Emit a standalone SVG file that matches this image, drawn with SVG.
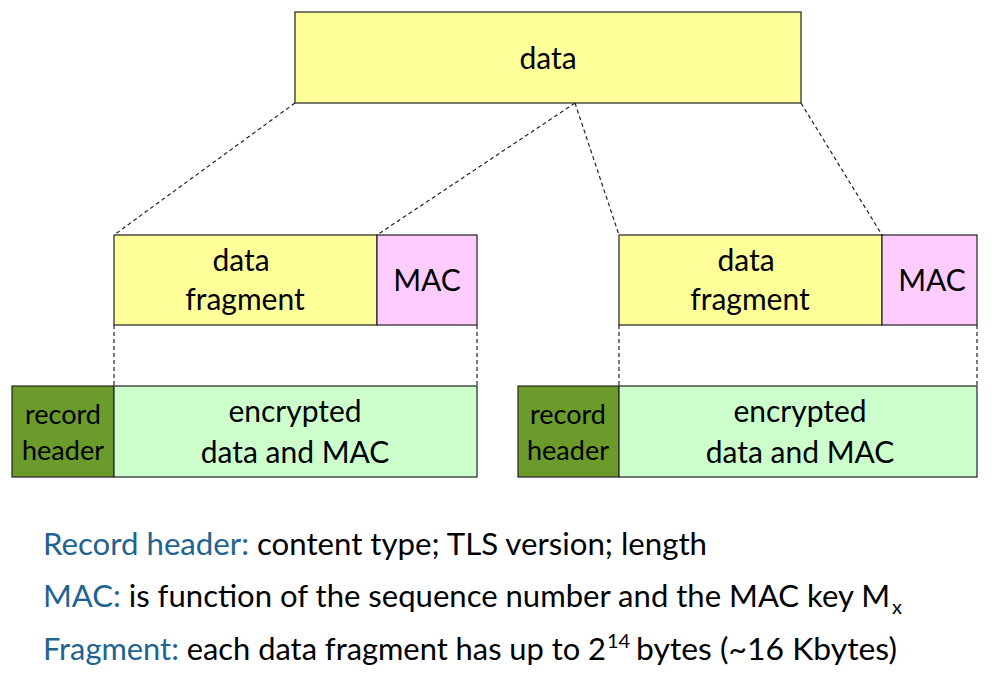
<svg xmlns="http://www.w3.org/2000/svg" width="992" height="688" viewBox="0 0 992 688">
<style>
.box{stroke:#222;stroke-width:1.2}
.yel{fill:#FFFF99}
.pink{fill:#FFCCFF}
.lg{fill:#CCFFCC}
.dg{fill:#6B9B2A}
.t{font-family:Lato,"Open Sans","Liberation Sans",sans-serif;fill:#000;text-anchor:middle}
.big{font-size:30px}
.sm{font-size:27px}
.cap{font-family:Lato,"Open Sans","Liberation Sans",sans-serif;font-size:30px;fill:#000}
.scr{font-family:Lato,"Open Sans","Liberation Sans",sans-serif;font-size:20px;fill:#000}
.blue{fill:#1F6391}
.dash{stroke:#222;stroke-width:1.2;stroke-dasharray:4 3;fill:none}
</style>
<rect width="992" height="688" fill="#fff"/>
<g id="connectors">
<line class="dash" x1="295" y1="103" x2="114" y2="235"/>
<line class="dash" x1="575" y1="103" x2="377" y2="235"/>
<line class="dash" x1="575" y1="103" x2="619" y2="235"/>
<line class="dash" x1="801" y1="103" x2="882" y2="235"/>
<line class="dash" x1="114" y1="325" x2="114" y2="386"/>
<line class="dash" x1="477" y1="325" x2="477" y2="386"/>
<line class="dash" x1="619" y1="325" x2="619" y2="386"/>
<line class="dash" x1="977" y1="325" x2="977" y2="386"/>
</g>
<g id="data">
<rect class="box yel" x="295" y="12" width="506" height="91"/>
<text class="t big" x="548" y="69">data</text>
</g>
<g id="frag1">
<rect class="box yel" x="114" y="235" width="263" height="90"/>
<text class="t big" x="241" y="271">data</text>
<text class="t big" x="245" y="310">fragment</text>
</g>
<g id="mac1">
<rect class="box pink" x="377" y="235" width="100" height="90"/>
<text class="t big" x="427" y="291">MAC</text>
</g>
<g id="frag2">
<rect class="box yel" x="619" y="235" width="263" height="90"/>
<text class="t big" x="746" y="271">data</text>
<text class="t big" x="750" y="310">fragment</text>
</g>
<g id="mac2">
<rect class="box pink" x="882" y="235" width="95" height="90"/>
<text class="t big" x="932" y="291">MAC</text>
</g>
<g id="hdr1">
<rect class="box dg" x="12" y="386" width="102" height="91"/>
<text class="t sm" x="63" y="424">record</text>
<text class="t sm" x="63" y="460">header</text>
</g>
<g id="enc1">
<rect class="box lg" x="114" y="386" width="363" height="91"/>
<text class="t big" x="295" y="422">encrypted</text>
<text class="t big" x="295" y="463">data and MAC</text>
</g>
<g id="hdr2">
<rect class="box dg" x="518" y="386" width="101" height="91"/>
<text class="t sm" x="568" y="424">record</text>
<text class="t sm" x="568" y="460">header</text>
</g>
<g id="enc2">
<rect class="box lg" x="619" y="386" width="358" height="91"/>
<text class="t big" x="800" y="422">encrypted</text>
<text class="t big" x="800" y="463">data and MAC</text>
</g>
<g id="notes">
<text class="cap" x="43" y="555" textLength="664" lengthAdjust="spacingAndGlyphs"><tspan class="blue">Record header:</tspan> content type; TLS version; length</text>
<text class="cap" x="43" y="607" textLength="847" lengthAdjust="spacingAndGlyphs"><tspan class="blue">MAC:</tspan> is function of the sequence number and the MAC key M</text>
<text class="scr" x="892" y="614">x</text>
<text class="cap" x="43" y="660" textLength="563" lengthAdjust="spacingAndGlyphs"><tspan class="blue">Fragment:</tspan> each data fragment has up to 2</text>
<text class="scr" x="607" y="648">14</text>
<text class="cap" x="636" y="660" textLength="261" lengthAdjust="spacingAndGlyphs">bytes (~16 Kbytes)</text>
</g>
</svg>
